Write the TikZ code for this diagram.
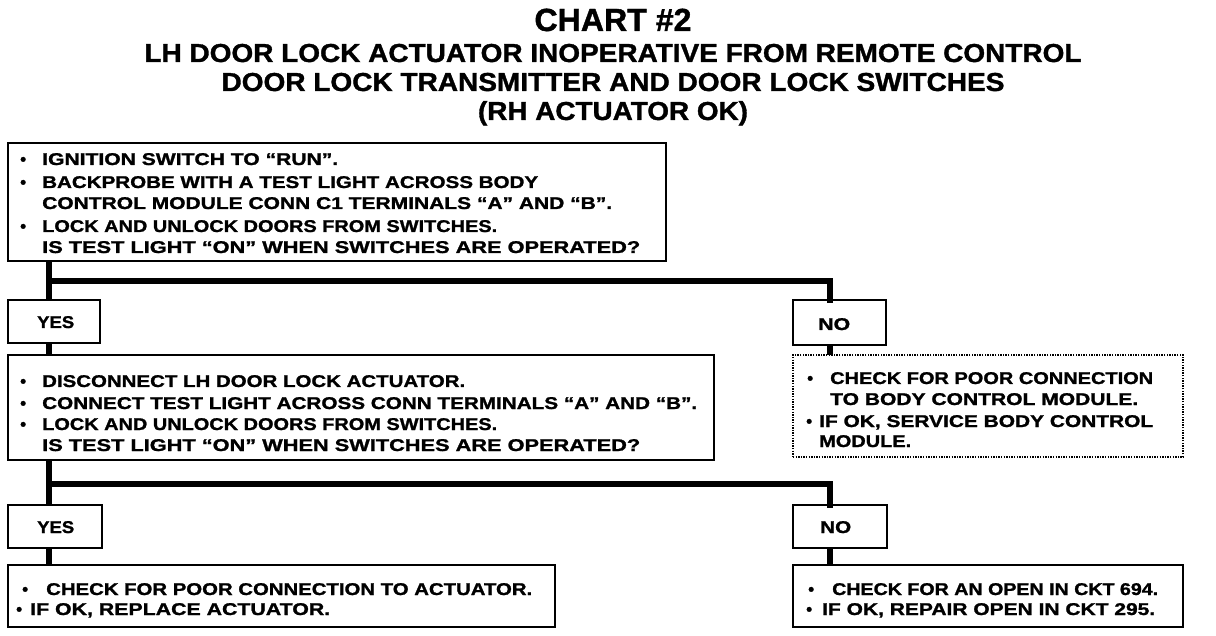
\documentclass[tikz,border=0pt]{standalone}
\usepackage{fontspec}
\setmainfont{Liberation Sans}[BoldFeatures={FakeBold=1.2}]
\usepackage{graphicx}
\newlength\fitlen
\newcommand\fitw[2]{\settowidth{\fitlen}{#2}\pgfmathsetmacro\fitfac{#1/\fitlen}\scalebox{\fitfac}[1]{#2}}
\tikzset{
  box/.style={draw, line width=2.4pt, inner sep=0pt, outer sep=0pt, anchor=north west},
  dotbox/.style={draw, line width=1.3pt, dash pattern=on 1.4pt off 1.2pt, inner sep=0pt, outer sep=0pt, anchor=north west},
  trunk/.style={line width=5.5pt},
  txt/.style={anchor=base west, inner sep=0pt, font=\fontsize{17}{17}\selectfont\bfseries},
  ttl/.style={anchor=base, inner sep=0pt, font=\fontsize{26}{26}\selectfont\bfseries},
  big/.style={anchor=base, inner sep=0pt, font=\fontsize{32}{32}\selectfont\bfseries}
}
\begin{document}
\begin{tikzpicture}[x=1pt,y=-1pt]
\useasboundingbox[fill=white] (0,0) rectangle (1216,636);
% title
\node[big] (t0) at (613,31) {\fitw{157}{CHART \#2}};
\node[ttl] (t1) at (613,62) {\fitw{937}{LH DOOR LOCK ACTUATOR INOPERATIVE FROM REMOTE CONTROL}};
\node[ttl] (t2) at (613,91) {\fitw{783}{DOOR LOCK TRANSMITTER AND DOOR LOCK SWITCHES}};
\node[ttl] (t3) at (613,120) {\fitw{270}{(RH ACTUATOR OK)}};
% boxes
\node[box, minimum width=658pt, minimum height=118pt] (b1) at (8,143) {};
\node[box, minimum width=92pt, minimum height=43pt] (yes1) at (8,300) {};
\node[box, minimum width=93pt, minimum height=45pt] (no1) at (793,300) {};
\node[box, minimum width=706pt, minimum height=105pt] (b2) at (8,355) {};
\node[dotbox, minimum width=390pt, minimum height=102pt] (b3) at (793,355) {};
\node[box, minimum width=94pt, minimum height=43pt] (yes2) at (8,505) {};
\node[box, minimum width=94pt, minimum height=43pt] (no2) at (793,505) {};
\node[box, minimum width=547pt, minimum height=62pt] (b4) at (8,565) {};
\node[box, minimum width=390pt, minimum height=62pt] (b5) at (793,565) {};
% connectors
\coordinate (j1) at (49,281);
\coordinate (j1r) at (830,281);
\coordinate (j2) at (49,484);
\coordinate (j2r) at (830,484);
\draw[trunk] (b1.south -| j1) -- (yes1.north -| j1);
\draw[trunk, line cap=rect] (j1) -- (j1r) -- (no1.north -| j1r);
\draw[trunk] (yes1.south -| j1) -- (b2.north -| j1);
\draw[trunk] (no1.south -| j1r) -- (b3.north -| j1r);
\draw[trunk] (b2.south -| j2) -- (yes2.north -| j2);
\draw[trunk, line cap=rect] (j2) -- (j2r) -- (no2.north -| j2r);
\draw[trunk] (yes2.south -| j2) -- (b4.north -| j2);
\draw[trunk] (no2.south -| j2r) -- (b5.north -| j2r);
% box 1 text
\node[txt] (p1a) at (20,165) {•};
\node[txt] (l1a) at (42,165) {\fitw{296}{IGNITION SWITCH TO ``RUN''.}};
\node[txt] (p1b) at (20,188) {•};
\node[txt] (l1b) at (42,188) {\fitw{496}{BACKPROBE WITH A TEST LIGHT ACROSS BODY}};
\node[txt] (l1c) at (42,209) {\fitw{570}{CONTROL MODULE CONN C1 TERMINALS ``A'' AND ``B''.}};
\node[txt] (p1d) at (20,232) {•};
\node[txt] (l1d) at (42,232) {\fitw{455}{LOCK AND UNLOCK DOORS FROM SWITCHES.}};
\node[txt] (l1e) at (42,253) {\fitw{598}{IS TEST LIGHT ``ON'' WHEN SWITCHES ARE OPERATED?}};
% yes/no
\node[txt] (y1) at (37,328) {\fitw{37}{YES}};
\node[txt] (n1) at (818,330) {\fitw{32}{NO}};
\node[txt] (y2) at (37,533) {\fitw{37}{YES}};
\node[txt] (n2) at (820,533) {\fitw{31}{NO}};
% box 2 text
\node[txt] (p2a) at (20,387) {•};
\node[txt] (l2a) at (42,387) {\fitw{423}{DISCONNECT LH DOOR LOCK ACTUATOR.}};
\node[txt] (p2b) at (20,409) {•};
\node[txt] (l2b) at (42,409) {\fitw{655}{CONNECT TEST LIGHT ACROSS CONN TERMINALS ``A'' AND ``B''.}};
\node[txt] (p2c) at (20,430) {•};
\node[txt] (l2c) at (42,430) {\fitw{455}{LOCK AND UNLOCK DOORS FROM SWITCHES.}};
\node[txt] (l2d) at (42,451) {\fitw{598}{IS TEST LIGHT ``ON'' WHEN SWITCHES ARE OPERATED?}};
% box 3 text
\node[txt] (p3a) at (807,384) {•};
\node[txt] (l3a) at (830,384) {\fitw{323}{CHECK FOR POOR CONNECTION}};
\node[txt] (l3b) at (830,405) {\fitw{308}{TO BODY CONTROL MODULE.}};
\node[txt] (p3c) at (806,427) {•};
\node[txt] (l3c) at (819,427) {\fitw{334}{IF OK, SERVICE BODY CONTROL}};
\node[txt] (l3d) at (819,447) {\fitw{92}{MODULE.}};
% box 4 text
\node[txt] (p4a) at (22,595) {•};
\node[txt] (l4a) at (46,595) {\fitw{486}{CHECK FOR POOR CONNECTION TO ACTUATOR.}};
\node[txt] (p4b) at (16,615) {•};
\node[txt] (l4b) at (30,615) {\fitw{300}{IF OK, REPLACE ACTUATOR.}};
% box 5 text
\node[txt] (p5a) at (808,595) {•};
\node[txt] (l5a) at (832,595) {\fitw{326}{CHECK FOR AN OPEN IN CKT 694.}};
\node[txt] (p5b) at (806,615) {•};
\node[txt] (l5b) at (822,615) {\fitw{333}{IF OK, REPAIR OPEN IN CKT 295.}};
\end{tikzpicture}
\end{document}
